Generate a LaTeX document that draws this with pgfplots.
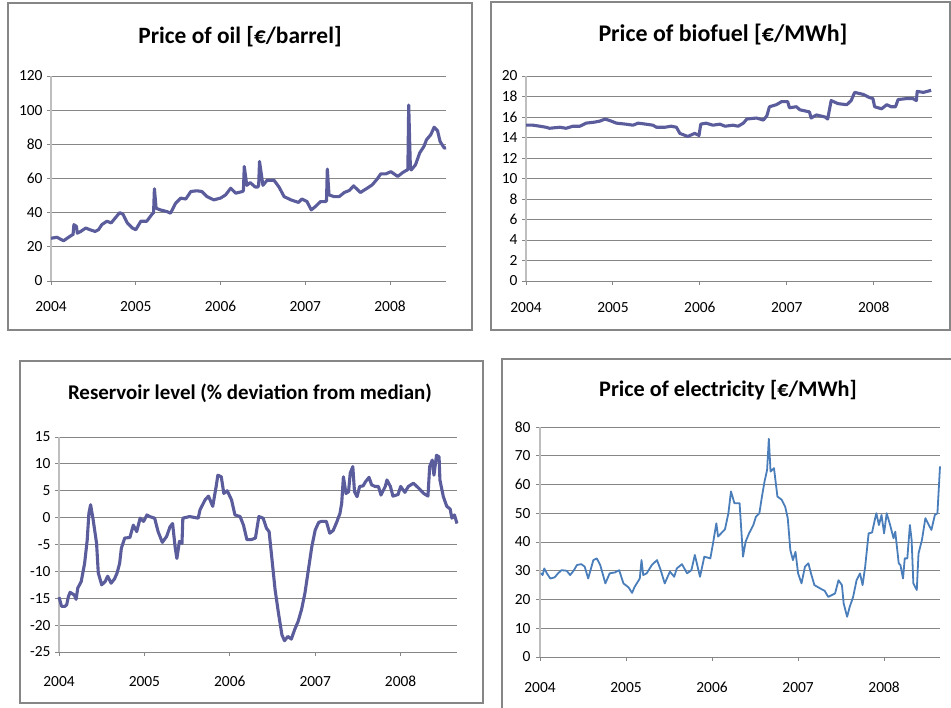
\documentclass[border=0pt]{standalone}
\usepackage{pgfplots}
\pgfplotsset{compat=1.18}
\usepackage{fontspec}
\setmainfont{Carlito}
\definecolor{serie}{RGB}{90,92,155}
\definecolor{elec}{RGB}{74,126,187}
\definecolor{gridc}{RGB}{134,134,134}
\definecolor{yaxc}{RGB}{190,190,190}
\definecolor{framec}{RGB}{134,134,134}
\pgfplotsset{
  panel/.style={
    scale only axis,
    anchor=south west,
    xmin=2004, xmax=2008.66,
    xtick={2004,2005,2006,2007,2008},
    xticklabels={2004,2005,2006,2007,2008},
    axis lines*=left,
    axis line style={-},
    x axis line style={gridc, line width=0.9bp},
    y axis line style={yaxc, line width=1.6bp},
    ymajorgrids,
    grid style={gridc, line width=0.9bp},
    tick align=outside,
    major tick length=4bp,
    tick style={gridc, line width=0.9bp},
    tick label style={font=\fontsize{15.5}{15.5}\selectfont},
    yticklabel style={xshift=-1bp},
    xticklabel style={anchor=base, yshift=-27bp},
    clip=false,
  },
  ser/.style={serie, line width=3.1bp, line join=round},
}
\begin{document}
\begin{tikzpicture}
\useasboundingbox (0,0) rectangle (951bp,708bp);
% frames
\draw[framec, line width=1.4bp] (8bp,378bp) rectangle (472bp,705bp);
\draw[framec, line width=1.4bp] (491bp,378bp) rectangle (950bp,706bp);
\draw[framec, line width=1.4bp] (20bp,5bp) rectangle (483bp,347bp);
\draw[framec, line width=1.4bp] (502bp,-5bp) -- (502bp,349bp) -- (960bp,349bp);
% titles
\node[font=\fontsize{23.5}{23.5}\selectfont\bfseries] at (240bp,671bp) {Price of oil [€/barrel]};
\node[font=\fontsize{24}{24}\selectfont\bfseries] at (723bp,673bp) {Price of biofuel [€/MWh]};
\node[font=\fontsize{21}{21}\selectfont\bfseries] at (250bp,315bp) {Reservoir level (\% deviation from median)};
\node[font=\fontsize{22.3}{22.3}\selectfont\bfseries] at (728bp,318bp) {Price of electricity [€/MWh]};

% Oil
\begin{axis}[panel, at={(51bp,427bp)}, width=395bp, height=205bp,
  ymin=0, ymax=120, ytick={0,20,...,120}, yticklabels={0,20,40,60,80,100,120}]
\addplot[ser] coordinates {
(2004.00,25)(2004.07,25.6)(2004.13,24)(2004.15,23.6)(2004.19,25)(2004.25,27)(2004.26,27)(2004.27,33)(2004.30,32)(2004.31,28)(2004.35,29)(2004.41,31)(2004.46,30)(2004.52,29)(2004.56,30)(2004.60,33)(2004.66,35)(2004.71,34)(2004.76,37)(2004.81,40)(2004.85,39)(2004.90,34)(2004.96,31)(2005.00,30)(2005.06,35)(2005.13,35)(2005.19,39)(2005.21,40)(2005.22,54)(2005.24,42.6)(2005.29,41.6)(2005.37,40.6)(2005.41,39.7)(2005.47,45.5)(2005.53,48.5)(2005.59,48)(2005.65,52.4)(2005.72,52.8)(2005.78,52.4)(2005.84,49.4)(2005.92,47.5)(2006.00,48.5)(2006.06,50.4)(2006.12,54.3)(2006.18,51.4)(2006.26,52.4)(2006.27,53)(2006.28,67)(2006.31,56)(2006.35,57.6)(2006.41,55)(2006.44,55)(2006.45,56)(2006.46,70)(2006.50,56)(2006.55,59)(2006.63,59)(2006.69,55)(2006.75,49.4)(2006.83,47.5)(2006.92,46)(2006.96,48)(2007.02,46.5)(2007.07,41.6)(2007.12,43.6)(2007.18,46.5)(2007.24,46.5)(2007.25,47)(2007.26,65.5)(2007.28,50.4)(2007.34,49.4)(2007.40,49.4)(2007.46,51.8)(2007.52,53)(2007.57,55.7)(2007.65,51.8)(2007.73,54.3)(2007.79,56.3)(2007.85,59.8)(2007.89,62.7)(2007.95,62.7)(2008.01,64)(2008.09,61.2)(2008.15,63.5)(2008.20,65)(2008.21,65)(2008.22,103)(2008.24,66)(2008.25,65)(2008.30,68)(2008.35,75)(2008.40,78.8)(2008.43,82.7)(2008.48,85.6)(2008.52,90)(2008.56,88)(2008.59,81.7)(2008.64,77.8)(2008.66,78)
};
\end{axis}

% Biofuel
\begin{axis}[panel, at={(526bp,427bp)}, width=406bp, height=205bp, xmax=2008.67,
  ymin=0, ymax=20, ytick={0,2,...,20}, yticklabels={0,2,4,6,8,10,12,14,16,18,20},
  xticklabel style={yshift=-1bp}]
\addplot[ser] coordinates {
(2004.00,15.2)(2004.08,15.2)(2004.16,15.1)(2004.23,15.0)(2004.27,14.9)(2004.39,15.0)(2004.46,14.9)(2004.54,15.1)(2004.62,15.1)(2004.69,15.4)(2004.79,15.5)(2004.85,15.6)(2004.91,15.8)(2004.98,15.6)(2005.04,15.4)(2005.15,15.3)(2005.23,15.2)(2005.29,15.4)(2005.38,15.3)(2005.46,15.2)(2005.50,15.0)(2005.60,15.0)(2005.67,15.1)(2005.73,15.0)(2005.77,14.4)(2005.86,14.1)(2005.94,14.4)(2005.99,14.2)(2006.01,15.3)(2006.07,15.4)(2006.15,15.2)(2006.23,15.3)(2006.29,15.1)(2006.38,15.2)(2006.44,15.1)(2006.50,15.4)(2006.54,15.8)(2006.65,15.9)(2006.73,15.7)(2006.77,16.1)(2006.80,17.0)(2006.88,17.2)(2006.94,17.5)(2007.01,17.5)(2007.03,16.9)(2007.11,17.0)(2007.15,16.7)(2007.26,16.5)(2007.28,15.9)(2007.34,16.2)(2007.44,16.0)(2007.47,15.8)(2007.51,17.6)(2007.59,17.3)(2007.69,17.2)(2007.74,17.6)(2007.78,18.4)(2007.88,18.2)(2007.95,17.9)(2007.99,17.8)(2008.01,17.0)(2008.09,16.8)(2008.15,17.2)(2008.20,17.0)(2008.25,17.0)(2008.28,17.7)(2008.38,17.8)(2008.45,17.8)(2008.49,17.6)(2008.50,18.5)(2008.57,18.4)(2008.66,18.6)
};
\end{axis}

% Reservoir
\begin{axis}[panel, at={(59bp,56bp)}, width=398bp, height=215bp,
  ymin=-25, ymax=15, ytick={-25,-20,...,15}, yticklabels={-25,-20,-15,-10,-5,0,5,10,15},
  xticklabel style={yshift=-3bp}]
\addplot[ser] coordinates {
(2004.00,-14.8)(2004.03,-16.5)(2004.07,-16.5)(2004.09,-16.2)(2004.11,-14.7)(2004.13,-13.9)(2004.18,-14.4)(2004.20,-15.2)(2004.22,-13.1)(2004.26,-11.9)(2004.30,-8.5)(2004.33,-4.2)(2004.35,0.8)(2004.37,2.4)(2004.40,-0.4)(2004.44,-4.8)(2004.46,-10.3)(2004.50,-12.5)(2004.54,-11.9)(2004.57,-10.9)(2004.61,-12.2)(2004.65,-11.4)(2004.68,-10.3)(2004.71,-8.5)(2004.73,-5.7)(2004.77,-3.8)(2004.83,-3.7)(2004.87,-1.4)(2004.91,-2.6)(2004.95,-0.1)(2004.99,-0.7)(2005.03,0.5)(2005.06,0.2)(2005.12,-0.1)(2005.16,-2.6)(2005.21,-4.6)(2005.26,-3.5)(2005.30,-1.7)(2005.33,-1.1)(2005.36,-5.5)(2005.38,-7.6)(2005.41,-4.4)(2005.44,-4.8)(2005.45,-0.1)(2005.53,0.2)(2005.63,-0.1)(2005.65,1.4)(2005.71,3.3)(2005.75,4.0)(2005.80,2.1)(2005.84,5.8)(2005.86,7.9)(2005.90,7.6)(2005.93,4.5)(2005.97,5.0)(2006.02,3.3)(2006.06,0.5)(2006.12,0.2)(2006.16,-1.4)(2006.20,-4.1)(2006.25,-4.1)(2006.30,-3.8)(2006.34,0.2)(2006.39,-0.1)(2006.43,-2.0)(2006.46,-2.6)(2006.49,-7.2)(2006.53,-13.4)(2006.57,-17.8)(2006.61,-21.8)(2006.64,-22.9)(2006.68,-22.1)(2006.72,-22.6)(2006.76,-20.8)(2006.80,-19.3)(2006.84,-17.1)(2006.88,-14.0)(2006.92,-9.7)(2006.96,-5.4)(2007.00,-2.3)(2007.04,-0.9)(2007.07,-0.7)(2007.13,-0.7)(2007.17,-2.9)(2007.21,-2.4)(2007.25,-0.9)(2007.29,0.8)(2007.31,2.7)(2007.33,7.6)(2007.36,4.5)(2007.39,4.8)(2007.41,8.3)(2007.44,9.5)(2007.46,4.8)(2007.49,3.9)(2007.52,5.8)(2007.56,5.9)(2007.59,6.7)(2007.63,7.5)(2007.66,6.1)(2007.70,5.8)(2007.74,5.8)(2007.77,4.2)(2007.82,5.8)(2007.84,7.0)(2007.88,5.8)(2007.91,4.0)(2007.97,4.3)(2008.00,5.8)(2008.05,4.7)(2008.09,5.8)(2008.15,6.4)(2008.21,5.5)(2008.27,4.5)(2008.32,4.0)(2008.34,9.5)(2008.37,10.7)(2008.39,7.9)(2008.42,11.6)(2008.45,11.3)(2008.46,7.0)(2008.50,3.9)(2008.54,2.1)(2008.58,1.6)(2008.60,-0.1)(2008.63,0.5)(2008.66,-1.1)
};
\end{axis}

% Electricity
\begin{axis}[panel, at={(540bp,51bp)}, width=400bp, height=230bp, xmax=2008.65,
  ymin=0, ymax=80, ytick={0,10,...,80}, yticklabels={0,10,20,30,40,50,60,70,80},
  xticklabel style={yshift=-4bp}, yticklabel style={xshift=-1bp}]
\addplot[elec, line width=1.8bp, line join=round] coordinates {
(2004.01,29.1)(2004.03,28.5)(2004.05,30.8)(2004.08,29.1)(2004.12,27.3)(2004.17,27.7)(2004.21,29.1)(2004.25,30.2)(2004.31,30.0)(2004.35,28.5)(2004.39,30.0)(2004.43,32.0)(2004.48,32.3)(2004.52,31.4)(2004.56,27.3)(2004.62,33.7)(2004.66,34.3)(2004.70,32.0)(2004.76,25.6)(2004.81,29.1)(2004.87,29.4)(2004.92,30.2)(2004.97,25.6)(2005.03,24.2)(2005.07,22.3)(2005.10,24.4)(2005.16,27.3)(2005.18,33.7)(2005.20,28.5)(2005.24,29.1)(2005.30,32.0)(2005.36,33.7)(2005.40,30.5)(2005.45,25.6)(2005.51,29.7)(2005.56,27.9)(2005.59,30.8)(2005.65,32.3)(2005.71,29.1)(2005.76,30.2)(2005.80,35.5)(2005.86,27.9)(2005.91,34.9)(2005.98,34.3)(2006.01,39.3)(2006.05,46.5)(2006.07,41.9)(2006.15,44.4)(2006.19,50.0)(2006.22,57.6)(2006.26,53.5)(2006.32,53.5)(2006.36,34.9)(2006.39,40.1)(2006.43,43.0)(2006.48,45.9)(2006.51,48.8)(2006.55,50.0)(2006.58,55.8)(2006.61,61.0)(2006.64,65.1)(2006.66,75.9)(2006.68,64.5)(2006.72,65.7)(2006.76,55.8)(2006.81,54.7)(2006.85,52.3)(2006.88,48.3)(2006.91,37.2)(2006.94,33.7)(2006.97,36.6)(2007.00,29.1)(2007.04,25.6)(2007.08,31.4)(2007.12,32.6)(2007.15,29.1)(2007.19,25.0)(2007.26,23.8)(2007.31,23.0)(2007.35,20.9)(2007.39,21.5)(2007.43,22.1)(2007.47,26.7)(2007.51,25.0)(2007.53,18.6)(2007.57,14.0)(2007.60,17.4)(2007.64,20.9)(2007.68,26.7)(2007.72,29.1)(2007.75,25.0)(2007.78,31.4)(2007.82,43.0)(2007.86,43.3)(2007.90,48.8)(2007.91,50.0)(2007.94,45.9)(2007.97,49.4)(2008.00,43.0)(2008.03,50.0)(2008.07,45.9)(2008.11,41.3)(2008.13,43.6)(2008.17,32.6)(2008.19,32.0)(2008.22,27.3)(2008.24,34.3)(2008.27,34.3)(2008.30,45.9)(2008.32,40.7)(2008.34,25.6)(2008.38,23.3)(2008.40,36.0)(2008.44,40.7)(2008.48,48.3)(2008.52,45.9)(2008.55,44.2)(2008.59,49.4)(2008.62,50.0)(2008.65,66.3)
};
\end{axis}
\end{tikzpicture}
\end{document}
